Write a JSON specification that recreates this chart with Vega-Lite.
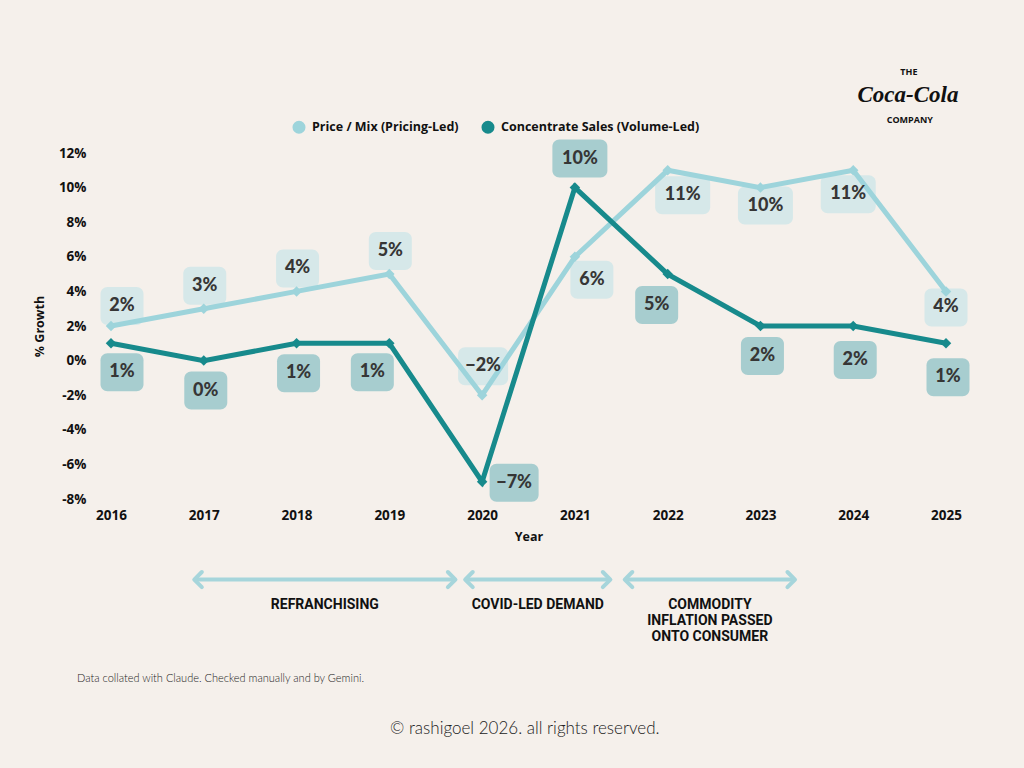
{
  "$schema": "https://vega.github.io/schema/vega-lite/v6.json",
  "width": 835,
  "height": 346,
  "autosize": {"type": "none"},
  "padding": {"left": 111, "top": 153, "right": 78, "bottom": 269},
  "background": "#F5F0EB",
  "data": {
    "values": [
      {"Year": 2016, "Series": "Price / Mix (Pricing-Led)", "Growth": 0.02},
      {"Year": 2017, "Series": "Price / Mix (Pricing-Led)", "Growth": 0.03},
      {"Year": 2018, "Series": "Price / Mix (Pricing-Led)", "Growth": 0.04},
      {"Year": 2019, "Series": "Price / Mix (Pricing-Led)", "Growth": 0.05},
      {"Year": 2020, "Series": "Price / Mix (Pricing-Led)", "Growth": -0.02},
      {"Year": 2021, "Series": "Price / Mix (Pricing-Led)", "Growth": 0.06},
      {"Year": 2022, "Series": "Price / Mix (Pricing-Led)", "Growth": 0.11},
      {"Year": 2023, "Series": "Price / Mix (Pricing-Led)", "Growth": 0.10},
      {"Year": 2024, "Series": "Price / Mix (Pricing-Led)", "Growth": 0.11},
      {"Year": 2025, "Series": "Price / Mix (Pricing-Led)", "Growth": 0.04},
      {"Year": 2016, "Series": "Concentrate Sales (Volume-Led)", "Growth": 0.01},
      {"Year": 2017, "Series": "Concentrate Sales (Volume-Led)", "Growth": 0.0},
      {"Year": 2018, "Series": "Concentrate Sales (Volume-Led)", "Growth": 0.01},
      {"Year": 2019, "Series": "Concentrate Sales (Volume-Led)", "Growth": 0.01},
      {"Year": 2020, "Series": "Concentrate Sales (Volume-Led)", "Growth": -0.07},
      {"Year": 2021, "Series": "Concentrate Sales (Volume-Led)", "Growth": 0.10},
      {"Year": 2022, "Series": "Concentrate Sales (Volume-Led)", "Growth": 0.05},
      {"Year": 2023, "Series": "Concentrate Sales (Volume-Led)", "Growth": 0.02},
      {"Year": 2024, "Series": "Concentrate Sales (Volume-Led)", "Growth": 0.02},
      {"Year": 2025, "Series": "Concentrate Sales (Volume-Led)", "Growth": 0.01},
      {"Period": "REFRANCHISING", "start": 2016.93, "end": 2019.68, "Level": -0.1266},
      {"Period": "COVID-LED DEMAND", "start": 2019.85, "end": 2021.35, "Level": -0.1266},
      {"Period": "COMMODITY\nINFLATION PASSED\nONTO CONSUMER", "start": 2021.57, "end": 2023.34, "Level": -0.1266},
      {"Note": "THE", "At": 2024.6, "Level": 0.167},
      {"Note": "Coca-Cola", "At": 2024.59, "Level": 0.1538},
      {"Note": "COMPANY", "At": 2024.61, "Level": 0.1393},
      {"Note": "Data collated with Claude. Checked manually and by Gemini.", "At": 2015.634, "Level": -0.1838},
      {"Note": "© rashigoel 2026. all rights reserved.", "At": 2020.46, "Level": -0.2127}
    ]
  },
  "encoding": {
    "x": {
      "field": "Year",
      "type": "quantitative",
      "scale": {"domain": [2016, 2025], "nice": false, "zero": false},
      "axis": {
        "values": [2016, 2017, 2018, 2019, 2020, 2021, 2022, 2023, 2024, 2025],
        "format": "d",
        "title": "Year",
        "labelFlush": false,
        "labelPadding": 9,
        "titlePadding": 9
      }
    },
    "y": {
      "field": "Growth",
      "type": "quantitative",
      "scale": {"domain": [-0.08, 0.12], "nice": false},
      "axis": {
        "values": [-0.08, -0.06, -0.04, -0.02, 0, 0.02, 0.04, 0.06, 0.08, 0.1, 0.12],
        "format": ".0%",
        "labelExpr": "replace(datum.label, '\u2212', '-')",
        "title": "% Growth",
        "labelFlush": false,
        "labelPadding": 25,
        "titlePadding": 12
      }
    }
  },
  "layer": [
    {"transform": [{"filter": "datum.Series === 'Price / Mix (Pricing-Led)' && datum.Year == 2016"}], "mark": {"type": "rect", "width": 43, "height": 38, "cornerRadius": 7, "fill": "#D6E8E9", "xOffset": 11, "yOffset": -20}},
    {"transform": [{"filter": "datum.Series === 'Price / Mix (Pricing-Led)' && datum.Year >= 2017 && datum.Year <= 2019"}], "mark": {"type": "rect", "width": 43, "height": 38, "cornerRadius": 7, "fill": "#D6E8E9", "xOffset": 1, "yOffset": -23}},
    {"transform": [{"filter": "datum.Series === 'Price / Mix (Pricing-Led)' && datum.Year == 2020"}], "mark": {"type": "rect", "width": 50, "height": 38, "cornerRadius": 7, "fill": "#D6E8E9", "xOffset": 1, "yOffset": -29}},
    {"transform": [{"filter": "datum.Series === 'Price / Mix (Pricing-Led)' && datum.Year == 2021"}], "mark": {"type": "rect", "width": 43, "height": 38, "cornerRadius": 7, "fill": "#D6E8E9", "xOffset": 17, "yOffset": 23}},
    {"transform": [{"filter": "datum.Series === 'Price / Mix (Pricing-Led)' && datum.Year == 2022"}], "mark": {"type": "rect", "width": 55, "height": 38, "cornerRadius": 7, "fill": "#D6E8E9", "xOffset": 15, "yOffset": 25}},
    {"transform": [{"filter": "datum.Series === 'Price / Mix (Pricing-Led)' && datum.Year == 2023"}], "mark": {"type": "rect", "width": 55, "height": 38, "cornerRadius": 7, "fill": "#D6E8E9", "xOffset": 5, "yOffset": 18}},
    {"transform": [{"filter": "datum.Series === 'Price / Mix (Pricing-Led)' && datum.Year == 2024"}], "mark": {"type": "rect", "width": 55, "height": 38, "cornerRadius": 7, "fill": "#D6E8E9", "xOffset": -5, "yOffset": 24}},
    {"transform": [{"filter": "datum.Series === 'Price / Mix (Pricing-Led)' && datum.Year == 2025"}], "mark": {"type": "rect", "width": 43, "height": 38, "cornerRadius": 7, "fill": "#D6E8E9", "xOffset": 0, "yOffset": 16}},
    {"transform": [{"filter": "datum.Series === 'Concentrate Sales (Volume-Led)' && datum.Year == 2016"}], "mark": {"type": "rect", "width": 43, "height": 38, "cornerRadius": 7, "fill": "#A7CDCF", "xOffset": 11, "yOffset": 29}},
    {"transform": [{"filter": "datum.Series === 'Concentrate Sales (Volume-Led)' && (datum.Year == 2017 || datum.Year == 2018 || datum.Year == 2023)"}], "mark": {"type": "rect", "width": 43, "height": 38, "cornerRadius": 7, "fill": "#A7CDCF", "xOffset": 2, "yOffset": 30}},
    {"transform": [{"filter": "datum.Series === 'Concentrate Sales (Volume-Led)' && datum.Year == 2019"}], "mark": {"type": "rect", "width": 43, "height": 38, "cornerRadius": 7, "fill": "#A7CDCF", "xOffset": -17, "yOffset": 29}},
    {"transform": [{"filter": "datum.Series === 'Concentrate Sales (Volume-Led)' && datum.Year == 2020"}], "mark": {"type": "rect", "width": 49, "height": 38, "cornerRadius": 7, "fill": "#A7CDCF", "xOffset": 32, "yOffset": 1}},
    {"transform": [{"filter": "datum.Series === 'Concentrate Sales (Volume-Led)' && datum.Year == 2021"}], "mark": {"type": "rect", "width": 55, "height": 38, "cornerRadius": 7, "fill": "#A7CDCF", "xOffset": 5, "yOffset": -29}},
    {"transform": [{"filter": "datum.Series === 'Concentrate Sales (Volume-Led)' && datum.Year == 2022"}], "mark": {"type": "rect", "width": 43, "height": 38, "cornerRadius": 7, "fill": "#A7CDCF", "xOffset": -11, "yOffset": 31}},
    {"transform": [{"filter": "datum.Series === 'Concentrate Sales (Volume-Led)' && (datum.Year == 2024 || datum.Year == 2025)"}], "mark": {"type": "rect", "width": 43, "height": 38, "cornerRadius": 7, "fill": "#A7CDCF", "xOffset": 2, "yOffset": 34}},
    {
      "transform": [{"filter": "datum.Series === 'Price / Mix (Pricing-Led)'"}],
      "mark": {"type": "line", "strokeWidth": 5},
      "encoding": {
        "color": {
          "field": "Series",
          "type": "nominal",
          "scale": {
            "domain": ["Price / Mix (Pricing-Led)", "Concentrate Sales (Volume-Led)"],
            "range": ["#9DD4DB", "#178A8C"]
          },
          "legend": {
            "orient": "none",
            "direction": "horizontal",
            "legendX": 181,
            "legendY": -33,
            "title": null,
            "symbolType": "circle",
            "symbolSize": 170,
            "symbolStrokeWidth": 0,
            "labelFont": "Open Sans",
            "labelFontWeight": "bold",
            "labelFontSize": 12.5,
            "labelColor": "#111111",
            "labelLimit": 0,
            "labelOffset": 6,
            "columnPadding": 22
          }
        }
      }
    },
    {
      "transform": [{"filter": "datum.Series === 'Concentrate Sales (Volume-Led)'"}],
      "mark": {"type": "line", "strokeWidth": 5},
      "encoding": {"color": {"field": "Series", "type": "nominal"}}
    },
    {
      "transform": [{"filter": "isValid(datum.Series)"}],
      "mark": {"type": "point", "shape": "diamond", "filled": true, "opacity": 1, "size": 110},
      "encoding": {"color": {"field": "Series", "type": "nominal"}}
    },
    {"transform": [{"filter": "datum.Series === 'Price / Mix (Pricing-Led)' && datum.Year == 2016"}], "mark": {"type": "text", "font": "Lato", "fontWeight": 900, "fontSize": 18, "color": "#363636", "baseline": "middle", "xOffset": 11, "yOffset": -20}, "encoding": {"text": {"field": "Growth", "type": "quantitative", "format": ".0%"}}},
    {"transform": [{"filter": "datum.Series === 'Price / Mix (Pricing-Led)' && datum.Year >= 2017 && datum.Year <= 2019"}], "mark": {"type": "text", "font": "Lato", "fontWeight": 900, "fontSize": 18, "color": "#363636", "baseline": "middle", "xOffset": 1, "yOffset": -23}, "encoding": {"text": {"field": "Growth", "type": "quantitative", "format": ".0%"}}},
    {"transform": [{"filter": "datum.Series === 'Price / Mix (Pricing-Led)' && datum.Year == 2020"}], "mark": {"type": "text", "font": "Lato", "fontWeight": 900, "fontSize": 18, "color": "#363636", "baseline": "middle", "xOffset": 1, "yOffset": -29}, "encoding": {"text": {"field": "Growth", "type": "quantitative", "format": ".0%"}}},
    {"transform": [{"filter": "datum.Series === 'Price / Mix (Pricing-Led)' && datum.Year == 2021"}], "mark": {"type": "text", "font": "Lato", "fontWeight": 900, "fontSize": 18, "color": "#363636", "baseline": "middle", "xOffset": 17, "yOffset": 23}, "encoding": {"text": {"field": "Growth", "type": "quantitative", "format": ".0%"}}},
    {"transform": [{"filter": "datum.Series === 'Price / Mix (Pricing-Led)' && datum.Year == 2022"}], "mark": {"type": "text", "font": "Lato", "fontWeight": 900, "fontSize": 18, "color": "#363636", "baseline": "middle", "xOffset": 15, "yOffset": 25}, "encoding": {"text": {"field": "Growth", "type": "quantitative", "format": ".0%"}}},
    {"transform": [{"filter": "datum.Series === 'Price / Mix (Pricing-Led)' && datum.Year == 2023"}], "mark": {"type": "text", "font": "Lato", "fontWeight": 900, "fontSize": 18, "color": "#363636", "baseline": "middle", "xOffset": 5, "yOffset": 18}, "encoding": {"text": {"field": "Growth", "type": "quantitative", "format": ".0%"}}},
    {"transform": [{"filter": "datum.Series === 'Price / Mix (Pricing-Led)' && datum.Year == 2024"}], "mark": {"type": "text", "font": "Lato", "fontWeight": 900, "fontSize": 18, "color": "#363636", "baseline": "middle", "xOffset": -5, "yOffset": 24}, "encoding": {"text": {"field": "Growth", "type": "quantitative", "format": ".0%"}}},
    {"transform": [{"filter": "datum.Series === 'Price / Mix (Pricing-Led)' && datum.Year == 2025"}], "mark": {"type": "text", "font": "Lato", "fontWeight": 900, "fontSize": 18, "color": "#363636", "baseline": "middle", "xOffset": 0, "yOffset": 16}, "encoding": {"text": {"field": "Growth", "type": "quantitative", "format": ".0%"}}},
    {"transform": [{"filter": "datum.Series === 'Concentrate Sales (Volume-Led)' && datum.Year == 2016"}], "mark": {"type": "text", "font": "Lato", "fontWeight": 900, "fontSize": 18, "color": "#363636", "baseline": "middle", "xOffset": 11, "yOffset": 29}, "encoding": {"text": {"field": "Growth", "type": "quantitative", "format": ".0%"}}},
    {"transform": [{"filter": "datum.Series === 'Concentrate Sales (Volume-Led)' && (datum.Year == 2017 || datum.Year == 2018 || datum.Year == 2023)"}], "mark": {"type": "text", "font": "Lato", "fontWeight": 900, "fontSize": 18, "color": "#363636", "baseline": "middle", "xOffset": 2, "yOffset": 30}, "encoding": {"text": {"field": "Growth", "type": "quantitative", "format": ".0%"}}},
    {"transform": [{"filter": "datum.Series === 'Concentrate Sales (Volume-Led)' && datum.Year == 2019"}], "mark": {"type": "text", "font": "Lato", "fontWeight": 900, "fontSize": 18, "color": "#363636", "baseline": "middle", "xOffset": -17, "yOffset": 29}, "encoding": {"text": {"field": "Growth", "type": "quantitative", "format": ".0%"}}},
    {"transform": [{"filter": "datum.Series === 'Concentrate Sales (Volume-Led)' && datum.Year == 2020"}], "mark": {"type": "text", "font": "Lato", "fontWeight": 900, "fontSize": 18, "color": "#363636", "baseline": "middle", "xOffset": 32, "yOffset": 1}, "encoding": {"text": {"field": "Growth", "type": "quantitative", "format": ".0%"}}},
    {"transform": [{"filter": "datum.Series === 'Concentrate Sales (Volume-Led)' && datum.Year == 2021"}], "mark": {"type": "text", "font": "Lato", "fontWeight": 900, "fontSize": 18, "color": "#363636", "baseline": "middle", "xOffset": 5, "yOffset": -29}, "encoding": {"text": {"field": "Growth", "type": "quantitative", "format": ".0%"}}},
    {"transform": [{"filter": "datum.Series === 'Concentrate Sales (Volume-Led)' && datum.Year == 2022"}], "mark": {"type": "text", "font": "Lato", "fontWeight": 900, "fontSize": 18, "color": "#363636", "baseline": "middle", "xOffset": -11, "yOffset": 31}, "encoding": {"text": {"field": "Growth", "type": "quantitative", "format": ".0%"}}},
    {"transform": [{"filter": "datum.Series === 'Concentrate Sales (Volume-Led)' && (datum.Year == 2024 || datum.Year == 2025)"}], "mark": {"type": "text", "font": "Lato", "fontWeight": 900, "fontSize": 18, "color": "#363636", "baseline": "middle", "xOffset": 2, "yOffset": 34}, "encoding": {"text": {"field": "Growth", "type": "quantitative", "format": ".0%"}}},
    {
      "transform": [{"filter": "isValid(datum.Period)"}],
      "mark": {"type": "rule", "color": "#A6D5DB", "strokeWidth": 4, "strokeCap": "round"},
      "encoding": {
        "x": {"field": "start", "type": "quantitative"},
        "x2": {"field": "end"},
        "y": {"field": "Level", "type": "quantitative"}
      }
    },
    {
      "transform": [{"filter": "isValid(datum.Period)"}],
      "mark": {"type": "point", "shape": "M0.6,-1L-0.4,0L0.6,1", "filled": false, "stroke": "#A6D5DB", "strokeWidth": 4, "strokeCap": "round", "strokeJoin": "round", "size": 230, "opacity": 1},
      "encoding": {
        "x": {"field": "start", "type": "quantitative"},
        "y": {"field": "Level", "type": "quantitative"}
      }
    },
    {
      "transform": [{"filter": "isValid(datum.Period)"}],
      "mark": {"type": "point", "shape": "M-0.6,-1L0.4,0L-0.6,1", "filled": false, "stroke": "#A6D5DB", "strokeWidth": 4, "strokeCap": "round", "strokeJoin": "round", "size": 230, "opacity": 1},
      "encoding": {
        "x": {"field": "end", "type": "quantitative"},
        "y": {"field": "Level", "type": "quantitative"}
      }
    },
    {
      "transform": [
        {"filter": "isValid(datum.Period)"},
        {"fold": ["start", "end"], "as": ["edge", "yr"]},
        {"aggregate": [{"op": "mean", "field": "yr", "as": "mid"}], "groupby": ["Period", "Level"]}
      ],
      "mark": {"type": "text", "font": "Roboto", "fontWeight": "bold", "fontSize": 14, "color": "#111111", "align": "center", "baseline": "top", "lineBreak": "\n", "lineHeight": 16, "yOffset": 18},
      "encoding": {
        "x": {"field": "mid", "type": "quantitative"},
        "y": {"field": "Level", "type": "quantitative"},
        "text": {"field": "Period", "type": "nominal"}
      }
    },
    {
      "transform": [{"filter": "datum.Note === 'THE' || datum.Note === 'COMPANY'"}],
      "mark": {"type": "text", "font": "Open Sans", "fontWeight": "bold", "fontSize": 9, "color": "#111111", "align": "center", "baseline": "middle"},
      "encoding": {
        "x": {"field": "At", "type": "quantitative"},
        "y": {"field": "Level", "type": "quantitative"},
        "text": {"field": "Note", "type": "nominal"}
      }
    },
    {
      "transform": [{"filter": "datum.Note === 'Coca-Cola'"}],
      "mark": {"type": "text", "font": "Liberation Serif", "fontStyle": "italic", "fontWeight": "bold", "fontSize": 23, "color": "#111111", "align": "center", "baseline": "middle"},
      "encoding": {
        "x": {"field": "At", "type": "quantitative"},
        "y": {"field": "Level", "type": "quantitative"},
        "text": {"field": "Note", "type": "nominal"}
      }
    },
    {
      "transform": [{"filter": "indexof(datum.Note || '', 'Data collated') === 0"}],
      "mark": {"type": "text", "font": "Lato", "fontWeight": 300, "fontSize": 11, "color": "#222222", "align": "left", "baseline": "middle"},
      "encoding": {
        "x": {"field": "At", "type": "quantitative"},
        "y": {"field": "Level", "type": "quantitative"},
        "text": {"field": "Note", "type": "nominal"}
      }
    },
    {
      "transform": [{"filter": "indexof(datum.Note || '', 'rashigoel') >= 0"}],
      "mark": {"type": "text", "font": "Lato", "fontWeight": 300, "fontSize": 17, "color": "#222222", "align": "center", "baseline": "middle"},
      "encoding": {
        "x": {"field": "At", "type": "quantitative"},
        "y": {"field": "Level", "type": "quantitative"},
        "text": {"field": "Note", "type": "nominal"}
      }
    }
  ],
  "config": {
    "view": {"stroke": null},
    "axis": {
      "domain": false,
      "ticks": false,
      "grid": false,
      "labelFont": "Open Sans",
      "labelFontWeight": "bold",
      "labelFontSize": 13.5,
      "labelColor": "#111111",
      "titleFont": "Open Sans",
      "titleFontWeight": "bold",
      "titleFontSize": 12.5,
      "titleColor": "#111111"
    }
  }
}
